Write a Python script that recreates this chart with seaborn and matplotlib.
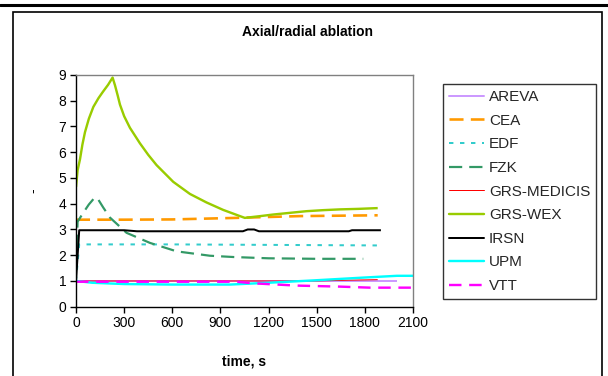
import matplotlib
matplotlib.use("Agg")
import matplotlib.pyplot as plt
import seaborn as sns
import pandas as pd
from matplotlib.patches import Rectangle
from matplotlib.lines import Line2D

# ---- data ----
series_names = ["AREVA", "CEA", "EDF", "FZK", "GRS-MEDICIS", "GRS-WEX", "IRSN", "UPM", "VTT"]

areva_t = [0, 2000]
areva_v = [1.0, 1.0]

cea_t = [0, 300, 600, 1000, 1400, 1880]
cea_v = [3.38, 3.38, 3.39, 3.45, 3.52, 3.55]

edf_t = [0, 20, 600, 1880]
edf_v = [1.0, 2.42, 2.42, 2.38]

fzk_t = [0, 10, 40, 80, 118, 140, 170, 212, 315, 460, 627, 834, 980, 1200, 1500, 1790]
fzk_v = [1.5, 3.3, 3.6, 3.97, 4.25, 4.15, 3.85, 3.46, 2.87, 2.48, 2.15, 1.98, 1.93, 1.88, 1.86, 1.86]

medicis_t = [0, 1000, 1500, 1700, 1880]
medicis_v = [1.0, 1.0, 1.0, 1.03, 1.05]

wex_t = [0, 10, 25, 40, 56, 80, 108, 140, 168, 200, 228, 243, 260, 274, 300, 336, 398, 450,
         502, 606, 710, 813, 917, 1021, 1052, 1150, 1228, 1340, 1436, 1540, 1644, 1760, 1880]
wex_v = [4.65, 5.3, 5.73, 6.3, 6.78, 7.3, 7.76, 8.1, 8.35, 8.62, 8.9, 8.6, 8.2, 7.85, 7.4,
         6.95, 6.35, 5.9, 5.5, 4.85, 4.38, 4.05, 3.76, 3.52, 3.45, 3.52, 3.58, 3.65, 3.71,
         3.75, 3.78, 3.8, 3.83]

irsn_t = [0, 20, 300, 380, 1040, 1070, 1110, 1140, 1700, 1720, 1900]
irsn_v = [1.0, 2.97, 2.97, 2.93, 2.93, 3.0, 3.0, 2.93, 2.93, 2.97, 2.97]

upm_t = [0, 100, 300, 600, 960, 1200, 1476, 1789, 2000, 2100]
upm_v = [1.0, 0.93, 0.88, 0.86, 0.86, 0.93, 1.02, 1.13, 1.2, 1.2]

vtt_t = [0, 1000, 1100, 1374, 1644, 1831, 2100]
vtt_v = [0.97, 0.97, 0.91, 0.82, 0.78, 0.74, 0.74]

x_ticks = [0, 300, 600, 900, 1200, 1500, 1800, 2100]
y_ticks = [0, 1, 2, 3, 4, 5, 6, 7, 8, 9]

data = {
    "AREVA": (areva_t, areva_v),
    "CEA": (cea_t, cea_v),
    "EDF": (edf_t, edf_v),
    "FZK": (fzk_t, fzk_v),
    "GRS-MEDICIS": (medicis_t, medicis_v),
    "GRS-WEX": (wex_t, wex_v),
    "IRSN": (irsn_t, irsn_v),
    "UPM": (upm_t, upm_v),
    "VTT": (vtt_t, vtt_v),
}

# ---- styles ----
PX = 0.72
styles = {
    "AREVA": dict(color="#CC99FF", lw=2.0 * PX, dashes=None),
    "CEA": dict(color="#FF9900", lw=2.6 * PX, dashes=(5.4, 2.8)),
    "EDF": dict(color="#33CCCC", lw=2.0 * PX, dashes=(2.2, 3.3)),
    "FZK": dict(color="#339966", lw=2.2 * PX, dashes=(6.0, 3.2)),
    "GRS-MEDICIS": dict(color="#FF0000", lw=1.0 * PX, dashes=None),
    "GRS-WEX": dict(color="#99CC00", lw=2.4 * PX, dashes=None),
    "IRSN": dict(color="#000000", lw=2.0 * PX, dashes=None),
    "UPM": dict(color="#00FFFF", lw=2.4 * PX, dashes=None),
    "VTT": dict(color="#FF00FF", lw=2.4 * PX, dashes=(5.2, 3.2)),
}

sns.set_theme(style="white")
plt.rcParams["font.family"] = ["Liberation Sans", "DejaVu Sans"]

fig = plt.figure(figsize=(6.08, 3.76), dpi=100)
ax = fig.add_axes([76 / 608, 1 - 306.7 / 376, (413 - 76) / 608, (306.7 - 75) / 376])

handles = []
for name in series_names:
    t, v = data[name]
    st = styles[name]
    df = pd.DataFrame({"t": t, "v": v})
    sns.lineplot(data=df, x="t", y="v", ax=ax, color=st["color"], lw=st["lw"],
                 sort=False, estimator=None, legend=False)
    ln = ax.get_lines()[-1]
    if st["dashes"] is not None:
        ln.set_dashes(st["dashes"])
    ln.set_solid_capstyle("butt")
    ln.set_dash_capstyle("butt")
    ln.set_solid_joinstyle("round")
    h = Line2D([], [], color=st["color"], lw=max(st["lw"], 1.0 * PX))
    if st["dashes"] is not None:
        h.set_dashes(st["dashes"])
    handles.append(h)

ax.set_xlim(0, 2100)
ax.set_ylim(0, 9)
ax.set_xticks(x_ticks)
ax.set_yticks(y_ticks)
ax.tick_params(axis="both", direction="out", length=4, width=1, color="black",
               labelsize=10, labelcolor="black", pad=3, left=True, bottom=True)

for s in ["left", "bottom"]:
    ax.spines[s].set_color("black")
    ax.spines[s].set_linewidth(1.0)
for s in ["top", "right"]:
    ax.spines[s].set_color("#808080")
    ax.spines[s].set_linewidth(1.0)
    ax.spines[s].set_visible(True)
ax.grid(False)

ax.set_xlabel("time, s", fontsize=10, fontweight="bold", color="black")
ax.xaxis.set_label_coords(0.5, (306.7 - 355) / 231.7)
ax.set_ylabel("-", fontsize=10, color="black")
ax.yaxis.set_label_coords((40 - 76) / 337, 0.5)

fig.text(308 / 608, 1 - 32 / 376, "Axial/radial ablation", fontsize=10, fontweight="bold",
         ha="center", va="center", color="black")

leg = fig.legend(handles, series_names, loc="upper left",
                 bbox_to_anchor=(443 / 608, 1 - 84 / 376), fontsize=11,
                 frameon=True, fancybox=False, shadow=False, handlelength=2.3,
                 handletextpad=0.3, labelspacing=0.63, borderpad=0.4, borderaxespad=0)
leg.get_frame().set_edgecolor("black")
leg.get_frame().set_linewidth(1.0)
leg.get_frame().set_facecolor("white")

# outer chart border and page rule
fig.patches.append(Rectangle((13 / 608, -0.05), (602 - 13) / 608, (376 - 12) / 376 + 0.05,
                             transform=fig.transFigure, fill=False, edgecolor="black",
                             lw=1.2, zorder=0))
fig.add_artist(Line2D([0, 1], [1 - 4.7 / 376, 1 - 4.7 / 376], transform=fig.transFigure,
                      color="black", lw=2.2))

fig.savefig("out.png", dpi=100)
